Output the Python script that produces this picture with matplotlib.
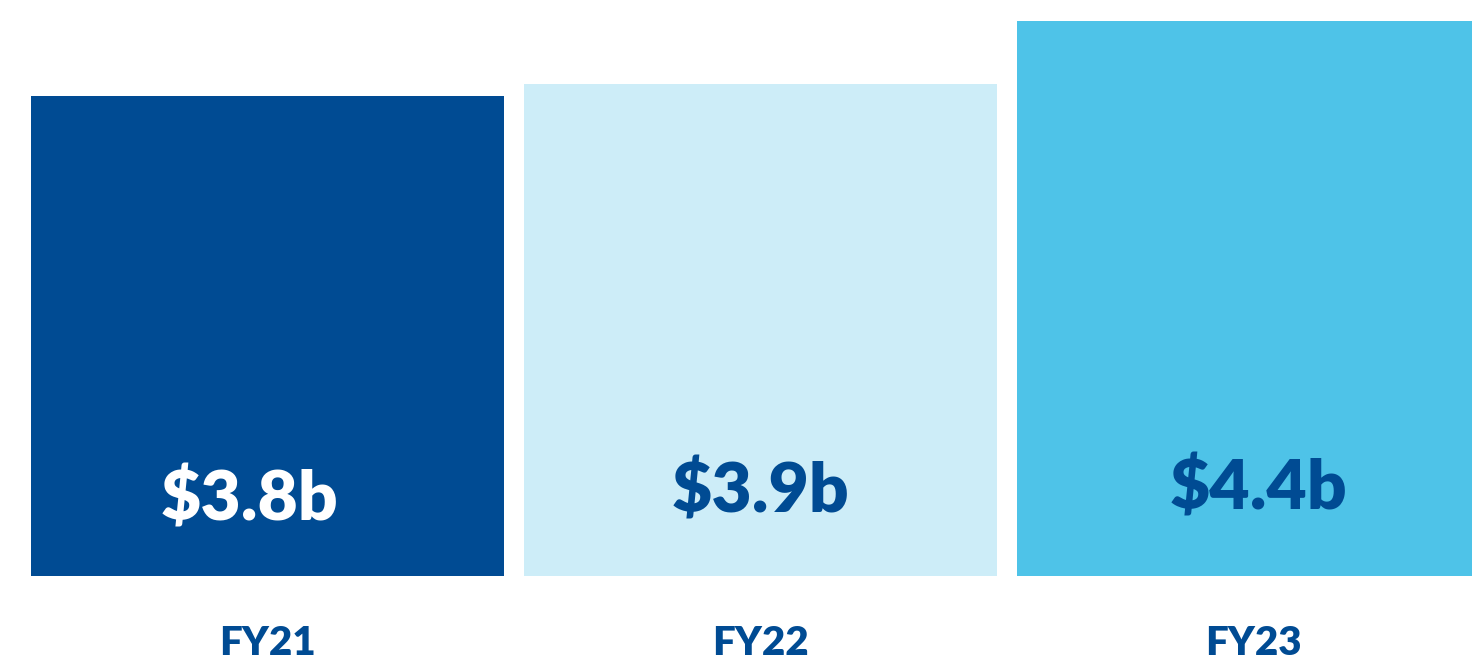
import matplotlib.pyplot as plt

# 資料
years = ['FY21', 'FY22', 'FY23']
values = [3.8, 3.9, 4.4]
value_labels = ['$3.8b', '$3.9b', '$4.4b']
bar_colors = ['#004B93', '#CDEDF8', '#4EC3E8']
text_colors = ['#FFFFFF', '#004B93', '#004B93']
dark_blue = '#004B93'

plt.rcParams['font.family'] = ['Lato', 'DejaVu Sans']

fig = plt.figure(figsize=(14.72, 6.63), dpi=100)
ax = fig.add_axes([0, 87 / 663, 1, 576 / 663])  # 下方留給年份標籤

px_per_unit = 126.2  # 每單位高度的像素
ax.set_ylim(0, 576 / px_per_unit)
ax.set_xlim(-267.5 / 493, (1472 - 267.5) / 493)
ax.axis('off')

x = list(range(len(years)))
ax.bar(x, values, width=473 / 493, color=bar_colors, linewidth=0)

# 數值標籤的微調位置 (x偏移, 基線高度)
nudges = [(-0.037, 0.44), (0.0, 0.50), (0.01, 0.53)]
for i in x:
    dx, y = nudges[i]
    ax.text(i + dx, y, value_labels[i], ha='center', va='baseline',
            fontsize=50, fontweight='heavy', color=text_colors[i])
    ax.text(i, -0.626, years[i], ha='center', va='baseline',
            fontsize=29, fontweight='heavy', color=dark_blue, clip_on=False)

fig.savefig('out.png', dpi=100)
